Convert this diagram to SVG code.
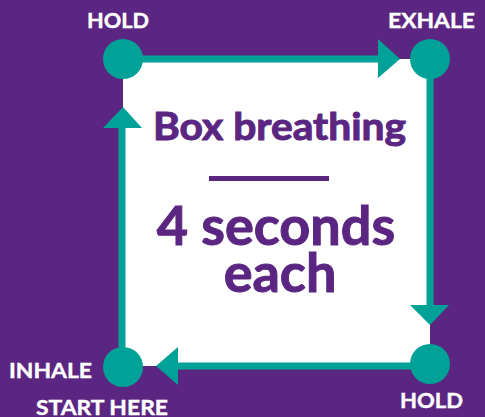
<svg xmlns="http://www.w3.org/2000/svg" width="485" height="417" viewBox="0 0 485 417">
<defs>
<style>
.lbl{font-family:Lato,"Open Sans","Liberation Sans",sans-serif;font-weight:700;fill:#ffffff;font-size:21px;stroke:#ffffff;stroke-width:0.4;}
.title{font-family:Lato,"Open Sans","Liberation Sans",sans-serif;font-weight:700;fill:#5b2682;text-anchor:middle;stroke:#5b2682;stroke-width:1;}
.edge{stroke:#00a196;stroke-width:7;fill:none;}
.head{fill:#00a196;}
.dot{fill:#00a196;}
</style>
</defs>
<rect width="485" height="417" fill="#5b2682"/>
<rect id="box" x="123" y="59" width="307" height="307" fill="#ffffff"/>
<g id="connectors">
<line class="edge" x1="123" y1="59" x2="385" y2="59"/>
<polygon class="head" points="378,39 400,59 378,78"/>
<line class="edge" x1="430" y1="59" x2="430" y2="310"/>
<polygon class="head" points="410,305 430,325 449,305"/>
<line class="edge" x1="430" y1="366" x2="170" y2="366"/>
<polygon class="head" points="178,347 156,366 178,385"/>
<line class="edge" x1="122" y1="366" x2="122" y2="120"/>
<polygon class="head" points="103,128 123,107 142,128"/>
</g>
<g id="node-hold-top"><circle class="dot" cx="123" cy="59" r="20"/><text class="lbl" x="87" y="28" textLength="62" lengthAdjust="spacingAndGlyphs">HOLD</text></g>
<g id="node-exhale"><circle class="dot" cx="430" cy="59" r="20"/><text class="lbl" x="388" y="28" textLength="87" lengthAdjust="spacingAndGlyphs">EXHALE</text></g>
<g id="node-hold-bottom"><circle class="dot" cx="430" cy="364" r="20"/><text class="lbl" x="400" y="408" textLength="63" lengthAdjust="spacingAndGlyphs">HOLD</text></g>
<g id="node-inhale"><circle class="dot" cx="123" cy="367" r="20"/><text class="lbl" x="9" y="378" textLength="83" lengthAdjust="spacingAndGlyphs">INHALE</text><text class="lbl" x="36" y="415" textLength="132" lengthAdjust="spacingAndGlyphs">START HERE</text></g>
<g id="center">
<text class="title" x="279.5" y="140" font-size="38" textLength="253" lengthAdjust="spacingAndGlyphs">Box breathing</text>
<rect x="209" y="176" width="120" height="5" fill="#5b2682"/>
<text class="title" x="276" y="245" font-size="54" stroke-width="1.4">4 seconds</text>
<text class="title" x="280" y="292" font-size="54" stroke-width="1.4">each</text>
</g>
</svg>
